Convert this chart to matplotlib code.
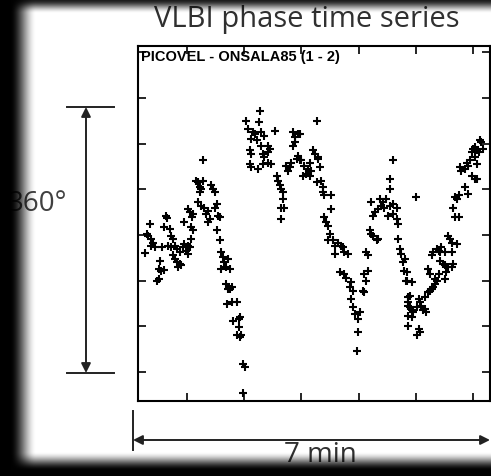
import numpy as np
import matplotlib
matplotlib.use('Agg')
import matplotlib.pyplot as plt

# time (s) and phase (deg), four stretches of the curve
rise_t = [21, 18, 16, 22, 24, 22, 26, 19, 34, 32,
          30, 33, 36, 28, 30, 38, 39, 36, 42, 43,
          45, 40, 43, 47, 49, 45, 47, 49, 52, 50,
          54, 53, 56, 57, 59, 61, 57, 61, 63, 64,
          66, 64, 61, 63, 66, 65, 69, 71, 73, 75,
          73, 77, 77, 71, 75, 78, 82, 80, 84, 82,
          85, 87, 89, 91, 89, 92, 94, 91, 94, 96,
          98, 99, 101, 96, 101, 103, 102,
          105, 107, 107, 112, 108, 114, 114, 112, 116, 119,
          121, 119, 103, 105, 115, 117]
rise_p = [14, 1, -24, -5, -10, -14, -16, -1, -16, -34,
          -45, -47, -46, -60, -58, 25, 22, 10, 8, -1,
          -5, -14, -16, -14, -18, -27, -32, -36, -38, -42,
          -40, -23, -16, -12, -21, -14, 17, -25, -16, -5,
          6, 10, 34, 30, 28, 23, 71, 69, 63, 60,
          56, 71, 98, 43, 38, 36, 32, 28, 21, 17,
          65, 60, 56, 41, 36, 25, 23, 6, -7, -23,
          -29, -36, -42, -45, -64, -71, -91,
          -71, -69, -88, -88, -113, -110, -121, -132, -134, -169,
          -174, -207, -32, -45, -108, -132]

top_t = [137, 135, 122, 124, 129, 131, 138, 141, 152, 127,
         133, 138, 145, 147, 126, 127, 140, 141, 145, 126,
         127, 134, 140, 145, 148, 154, 155, 157, 159, 161,
         161, 159, 162, 159, 164, 168, 166, 169, 175, 176,
         178, 171, 173, 176, 173, 171, 196, 183, 187, 185,
         189, 190, 189, 194, 197, 196, 192, 178, 180, 182]
top_p = [163, 148, 150, 139, 135, 133, 135, 130, 137, 126,
         124, 117, 117, 113, 111, 106, 106, 102, 109, 93,
         89, 87, 93, 95, 93, 78, 71, 65, 60, 56,
         47, 36, 36, 21, 91, 89, 84, 95, 100, 104,
         98, 135, 128, 133, 122, 117, 150, 91, 87, 80,
         78, 84, 95, 106, 102, 69, 111, 133, 98, 78]

mid_t = [197, 199, 201, 203, 203, 204, 211, 211, 204, 206,
         208, 210, 208, 213, 215, 218, 222, 224, 225, 229,
         215, 220, 225, 227, 232, 231, 234, 232, 234, 236,
         241, 239, 239, 238, 248, 250, 250, 246, 248, 245,
         246, 252, 253, 259, 255, 260, 253, 255, 257, 260,
         264, 262, 266, 267, 269, 273, 276, 280, 271, 276,
         280, 281, 276, 273, 273, 281, 283, 285, 287, 288,
         290, 292, 292, 292]
mid_p = [100, 89, 71, 63, 56, 52, 52, 34, 23, 17,
         12, 1, -7, -7, -14, -10, -14, -16, -23, -25,
         -25, -49, -51, -56, -62, -69, -73, -84, -95, -104,
         -101, -110, -128, -152, -23, -27, -47, -51, -60, -73,
         -75, 6, 1, -7, -1, -5, 43, 25, 30, 34,
         38, 47, 43, 36, 47, 38, 41, 36, 25, 28,
         21, 14, 98, 74, 60, -5, -18, -25, -36, -47,
         -60, -82, -93, -106]

end_t = [289, 291, 291, 296, 294, 292, 294, 296, 297, 292,
         303, 304, 306, 301, 308, 310, 311, 303, 304, 301,
         313, 315, 317, 318, 320, 320, 322, 324, 313, 315,
         317, 318, 322, 324, 326, 327, 331, 326, 329, 331,
         334, 338, 339, 332, 331, 334, 336, 338, 343, 338,
         339, 341, 343, 345, 341, 345, 300, 347, 348, 352,
         354, 355, 357, 359, 360, 362, 359, 362, 364, 352,
         355, 364, 362, 364, 368, 369, 371, 366, 296, 310]
end_p = [-32, -49, -60, -62, -80, -88, -95, -99, -101, -119,
         -84, -88, -93, -95, -99, -97, -101, -123, -128, -132,
         -75, -73, -71, -69, -64, -58, -60, -51, -45, -51,
         -27, -23, -18, -21, -23, -16, -23, -34, -38, -40,
         -42, -42, -38, -49, -58, -1, -5, -10, -12, -23,
         36, 50, 47, 52, 23, 23, 50, 89, 84, 87,
         95, 91, 98, 109, 113, 102, 78, 74, 93, 63,
         54, 74, 115, 111, 124, 122, 113, 109, -108, -82]

time_ticks = [60, 120, 180, 240, 300, 360]
phase_ticks = [-180, -120, -60, 0, 60, 120, 180, 240]

title = 'VLBI phase time series'
baseline_label = 'PICOVEL - ONSALA85 (1 - 2)'

t = np.array(rise_t + top_t + mid_t + end_t)
p = np.array(rise_p + top_p + mid_p + end_p)

W, H = 491, 477
fig = plt.figure(figsize=(W / 100, H / 100), dpi=100)
fig.patch.set_facecolor('white')
font = ['Open Sans', 'DejaVu Sans']

# the phase plot itself
ax = fig.add_axes([138 / W, 1 - 402 / H, (490 - 138) / W, (402 - 47) / H])
ax.scatter(t, p, marker='+', s=32, linewidths=1.5, color='black')
ax.set_xlim(8.4, 378)
ax.set_ylim(-218, 248)
ax.set_xticks(time_ticks)
ax.set_yticks(phase_ticks)
ax.tick_params(direction='in', length=6, width=1.2, top=True, right=True,
               labelleft=False, labelbottom=False)
for s in ax.spines.values():
    s.set_linewidth(1.5)
ax.text(0.008, 0.992, baseline_label, transform=ax.transAxes, ha='left', va='top',
        fontsize=10.5, fontweight='heavy', family=['Liberation Sans', 'DejaVu Sans'])

# overlay in pixel units for the annotations and the dark frame
ov = fig.add_axes([0, 0, 1, 1], zorder=5)
ov.axis('off')

ov.text(307, 19, title, ha='center', va='center', fontsize=21, color='#303030', family=font)
ov.text(38, 204, '360°', ha='center', va='center', fontsize=20, color='#404040', family=font)
ov.text(320, 455, '7 min', ha='center', va='center', fontsize=20, color='#303030', family=font)

col = '#222222'
ov.plot([67, 114], [108, 108], color=col, lw=1.4)
ov.plot([67, 114], [374, 374], color=col, lw=1.4)
ov.annotate('', xy=(86, 108), xytext=(86, 374),
            arrowprops=dict(arrowstyle='<|-|>', color=col, lw=1.4, mutation_scale=14,
                            shrinkA=0, shrinkB=0))
ov.plot([133, 133], [412, 451], color=col, lw=1.4)
ov.annotate('', xy=(133, 441), xytext=(490, 441),
            arrowprops=dict(arrowstyle='<|-|>', color=col, lw=1.4, mutation_scale=14,
                            shrinkA=0, shrinkB=0))


def ramp(d, a, b):
    u = np.clip((d - a) / (b - a), 0, 1)
    return 1 - u * u * (3 - 2 * u)


xx = np.arange(W)
yy = np.arange(H)
left = ramp(xx, 10, 36)
top = 0.9 * ramp(yy, 0, 14)
bottom = ramp(H - 1 - yy, 5, 24)
alpha = 1 - (1 - left[None, :]) * (1 - top[:, None]) * (1 - bottom[:, None])
shade = np.zeros((H, W, 4))
shade[..., 3] = alpha
ov.imshow(shade, extent=(0, W, H, 0), aspect='auto', zorder=10, interpolation='bilinear')
ov.set_xlim(0, W)
ov.set_ylim(H, 0)

fig.savefig('out.png', dpi=100)
